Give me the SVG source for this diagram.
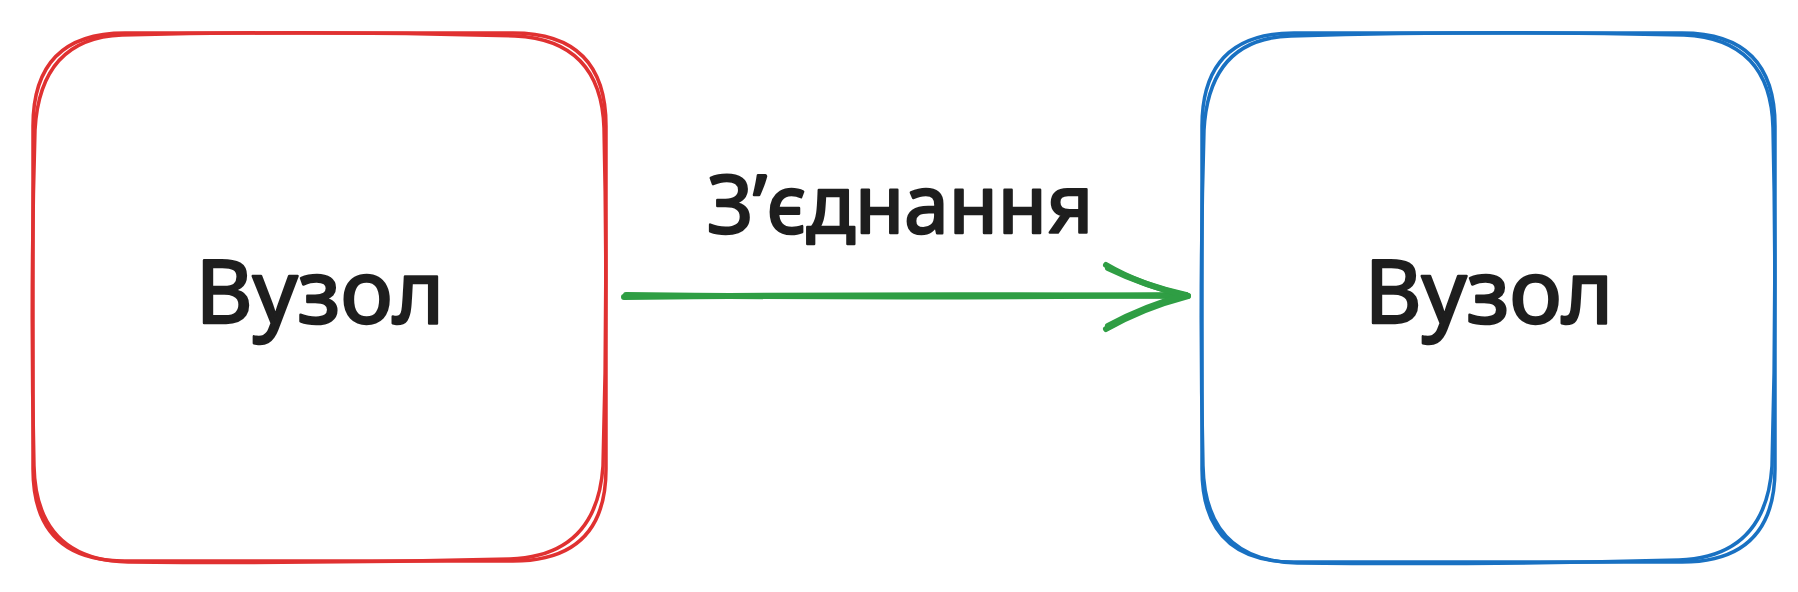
<svg xmlns="http://www.w3.org/2000/svg" width="1798" height="592" viewBox="0 0 1798 592">
<style>
.box{fill:none;stroke-width:3.5;stroke-linecap:round;stroke-linejoin:round}
.red{stroke:#e03131}
.blue{stroke:#1971c2}
.lbl{font-family:"Noto Sans","DejaVu Sans",sans-serif;font-size:80px;fill:#1e1e1e;stroke:#1e1e1e;stroke-width:2.5;stroke-linejoin:round;text-anchor:middle}
.node-lbl{font-size:88px}
.edge{fill:none;stroke:#2f9e44;stroke-width:6;stroke-linecap:round;stroke-linejoin:round}
</style>
<rect width="1798" height="592" fill="#ffffff"/>
<g id="node-left">
<path class="box red" d="M125 33 L513 33 Q606 33 606 126 L606 469 Q606 561 513 561 L125 561 Q33 561 33 469 L33 126 Q33 33 125 33 Z"/>
<path class="box red" d="M122 35 Q320 30 515 36 Q601 40 604 128 Q608 300 603 466 Q597 556 510 559 Q320 564 128 562 Q36 560 34 466 Q30 300 35 130 Q40 38 122 35 Z"/>
<g><text class="lbl node-lbl" x="320" y="323">Вузол</text></g>
</g>
<g id="node-right">
<path class="box blue" d="M1294 33 L1682 33 Q1775 33 1775 126 L1775 469 Q1775 562 1682 562 L1294 562 Q1202 562 1202 469 L1202 126 Q1202 33 1294 33 Z"/>
<path class="box blue" d="M1291 36 Q1490 30 1684 35 Q1771 39 1773 128 Q1777 300 1772 466 Q1766 557 1679 560 Q1490 565 1297 563 Q1205 561 1203 466 Q1199 300 1204 130 Q1209 38 1291 36 Z"/>
<g><text class="lbl node-lbl" x="1489" y="323">Вузол</text></g>
</g>
<g id="connectors">
<path class="edge" d="M624 297 Q900 294 1188 296"/>
<path class="edge" d="M626 295 Q900 298 1186 295"/>
<path class="edge" d="M1106 265 Q1140 285 1188 296 Q1142 308 1106 329"/>
<path class="edge" d="M1108 268 Q1145 286 1186 295 Q1145 306 1108 326"/>
<text class="lbl" x="900" y="233">З’єднання</text>
</g>
</svg>
